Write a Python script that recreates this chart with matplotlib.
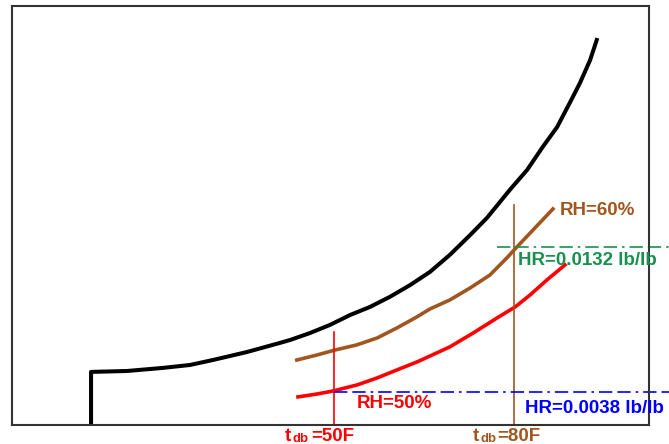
import matplotlib
matplotlib.use("Agg")
import matplotlib.pyplot as plt

plt.rcParams['font.family'] = ['Liberation Sans', 'DejaVu Sans']
plt.rcParams['font.weight'] = 'bold'

# saturation curve (dry bulb F, humidity ratio lb/lb)
sat_t = [9.5, 9.5, 15.5, 21.5, 26.0, 29.8, 35.5, 41.0, 42.7, 46.0, 49.3, 52.7,
         56.0, 59.3, 62.7, 66.0, 69.3, 72.7, 75.5, 79.3, 82.2, 84.8, 87.2,
         89.3, 91.0, 92.7, 93.8]
sat_w = [0.00166, 0.00510, 0.00516, 0.00536, 0.00555, 0.00587, 0.00639,
         0.00698, 0.00717, 0.00762, 0.00814, 0.00879, 0.00931, 0.00996,
         0.01073, 0.01158, 0.01268, 0.01397, 0.01508, 0.01689, 0.01819,
         0.01968, 0.02097, 0.02253, 0.02382, 0.02531, 0.02661]

# RH=60% curve
rh60_t = [43.8, 47.2, 50.2, 53.8, 57.2, 60.5, 63.8, 66.0, 69.3, 72.7, 76.0,
          78.8, 80.5, 82.7, 86.5]
rh60_w = [0.00587, 0.00620, 0.00652, 0.00685, 0.00730, 0.00795, 0.00866,
          0.00918, 0.00976, 0.01054, 0.01138, 0.01248, 0.01320, 0.01410, 0.01566]

# RH=50% curve
rh50_t = [44.0, 47.2, 49.8, 53.8, 57.2, 60.5, 63.8, 66.0, 69.3, 73.2, 77.2,
          80.2, 82.7, 85.5, 88.5]
rh50_w = [0.00348, 0.00367, 0.00386, 0.00425, 0.00471, 0.00523, 0.00574,
          0.00613, 0.00672, 0.00762, 0.00860, 0.00931, 0.01009, 0.01106, 0.01203]

t_marks = [50, 80]
w_marks = [0.0038, 0.0132]

brown = '#a2561f'
green = '#1a9050'

fig = plt.figure(figsize=(6.69, 4.44), dpi=100)
ax = fig.add_axes([0.018, 0.0428, 0.952, 0.9437])
ax.set_xlim(-3.67, 102.5)
ax.set_ylim(0.00166, 0.02881)
ax.set_xticks([])
ax.set_yticks([])
for s in ax.spines.values():
    s.set_color('#333333')
    s.set_linewidth(1.5)

ax.plot(sat_t, sat_w, color='black', lw=2.9)
ax.plot(rh60_t, rh60_w, color=brown, lw=2.6)
ax.plot(rh50_t, rh50_w, color='red', lw=2.6)

# dry bulb markers
ax.plot([t_marks[0], t_marks[0]], [0.00166, 0.00769], color='red', lw=1.2, clip_on=False)
ax.plot([t_marks[1], t_marks[1]], [0.00166, 0.01592], color=brown, lw=1.2, clip_on=False)

# humidity ratio markers
ax.plot([t_marks[0], 105.8], [w_marks[0], w_marks[0]], color='blue', lw=1.2,
        dashes=(8, 3, 8, 3, 1.5, 3), clip_on=False)
ax.plot([77.2, 105.8], [w_marks[1], w_marks[1]], color=green, lw=1.2,
        dashes=(8, 3, 8, 3, 1.5, 3), clip_on=False)

fs = 13.5
ax.text(87.7, 0.01527, "RH=60%", color=brown, fontsize=fs, va='baseline', ha='left')
ax.text(80.7, 0.01203, "HR=0.0132 lb/lb", color=green, fontsize=fs, va='baseline',
        ha='left', clip_on=False)
ax.text(53.8, 0.00276, "RH=50%", color='red', fontsize=fs, va='baseline', ha='left')
ax.text(81.8, 0.00244, "HR=0.0038 lb/lb", color='blue', fontsize=fs, va='baseline',
        ha='left', clip_on=False)


def tdb_label(x, value, color, gap):
    t = ax.text(x, 0.00062, "t", color=color, fontsize=fs, ha='left',
                va='baseline', clip_on=False)
    d = ax.annotate("db", xy=(1, 0), xycoords=t, xytext=(0.8, 0),
                    textcoords='offset points', color=color, fontsize=9.5,
                    ha='left', va='bottom')
    ax.annotate("=" + value, xy=(1, 0), xycoords=d, xytext=(gap, 0),
                textcoords='offset points', color=color, fontsize=fs,
                ha='left', va='bottom')


tdb_label(41.8, "50F", 'red', 2.5)
tdb_label(73.2, "80F", brown, 0.5)

fig.savefig("out.png", dpi=100)
